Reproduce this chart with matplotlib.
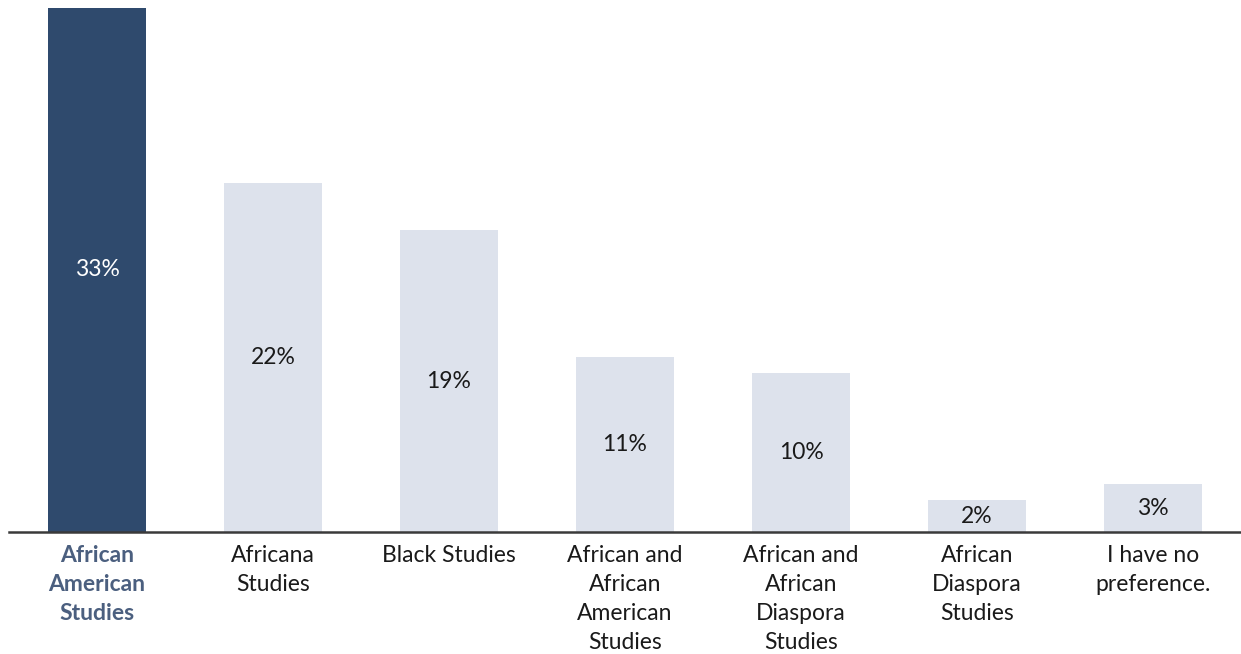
import matplotlib
matplotlib.use('Agg')
from matplotlib import pyplot as plt

categories = [
    'African\nAmerican\nStudies',
    'Africana\nStudies',
    'Black Studies',
    'African and\nAfrican\nAmerican\nStudies',
    'African and\nAfrican\nDiaspora\nStudies',
    'African\nDiaspora\nStudies',
    'I have no\npreference.',
]
shares = [33, 22, 19, 11, 10, 2, 3]

DARK = '#2f4a6d'
LIGHT = '#dde2ec'

plt.rcParams['font.family'] = ['Lato', 'DejaVu Sans']

fig = plt.figure(figsize=(12.41, 6.54), dpi=100)
ax = fig.add_axes([9 / 1241, (654 - 532) / 654, 1 - 9 / 1241, 524 / 654])

positions = list(range(len(shares)))
colors = [DARK] + [LIGHT] * (len(shares) - 1)
bars = ax.bar(positions, shares, width=0.56, color=colors, zorder=2)

for i, (bar, val) in enumerate(zip(bars, shares)):
    ax.text(bar.get_x() + bar.get_width() / 2, val / 2, f'{val}%',
            ha='center', va='center', fontsize=16.5,
            color='white' if i == 0 else '#1a1a1a')

ax.set_xlim(-0.5, len(shares) - 0.5)
ax.set_ylim(0, 33)

ax.set_xticks(positions)
ax.set_xticklabels(categories, fontsize=16.5, linespacing=1.46, va='top')
ax.tick_params(axis='x', length=0, pad=9.5)
for i, lbl in enumerate(ax.get_xticklabels()):
    if i == 0:
        lbl.set_color('#4b5f7f')
        lbl.set_fontweight('bold')
    else:
        lbl.set_color('#1a1a1a')

ax.set_yticks([])
for side in ['top', 'right', 'left']:
    ax.spines[side].set_visible(False)
ax.spines['bottom'].set_color('#3a3a3a')
ax.spines['bottom'].set_linewidth(1.8)

fig.savefig('out.png', dpi=100)
